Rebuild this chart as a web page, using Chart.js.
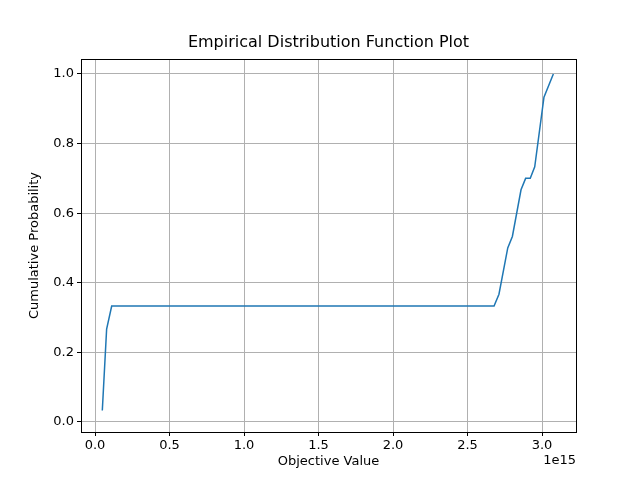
<!DOCTYPE html>
<html><head><meta charset="utf-8">
<script src="https://cdn.jsdelivr.net/npm/chart.js@4"></script>
<style>body{margin:0;background:#fff}#wrap{width:640px;height:480px}</style>
</head><body><div id="wrap"><canvas id="c" width="640" height="480"></canvas></div>
<script>
// x values in units of 1e15
const objValues = [0.049, 0.078, 0.112, 2.678, 2.711, 2.770, 2.801, 2.859, 2.890, 2.921, 2.951, 3.013, 3.076];
const cumProb = [0.033, 0.267, 0.333, 0.333, 0.367, 0.5, 0.533, 0.667, 0.7, 0.7, 0.733, 0.933, 1.0];
const xTicks = [0, 0.5, 1, 1.5, 2, 2.5, 3];
const yTicks = [0, 0.2, 0.4, 0.6, 0.8, 1.0];

const font = {family: 'DejaVu Sans', size: 13};
const extras = {
  id: 'extras',
  afterDraw(chart) {
    const c = chart.ctx, a = chart.chartArea;
    c.save();
    c.fillStyle = '#000';
    c.font = '16px DejaVu Sans';
    c.textAlign = 'center';
    c.textBaseline = 'middle';
    c.fillText('Empirical Distribution Function Plot', (a.left + a.right) / 2, 43);
    c.font = '13px DejaVu Sans';
    c.fillText('Objective Value', (a.left + a.right) / 2, 462);
    c.textAlign = 'right';
    c.fillText('1e15', a.right, 461);
    c.translate(35, (a.top + a.bottom) / 2);
    c.rotate(-Math.PI / 2);
    c.textAlign = 'center';
    c.fillText('Cumulative Probability', 0, 0);
    c.restore();
    c.save();
    c.strokeStyle = '#000';
    c.lineWidth = 1;
    c.strokeRect(a.left + 0.5, a.top + 0.5, a.right - a.left, a.bottom - a.top);
    c.restore();
  }
};

new Chart(document.getElementById('c').getContext('2d'), {
  type: 'line',
  data: {
    datasets: [{
      data: objValues.map((x, i) => ({x: x, y: cumProb[i]})),
      borderColor: '#1f77b4',
      borderWidth: 1.5,
      pointRadius: 0,
      tension: 0,
      fill: false
    }]
  },
  options: {
    responsive: false,
    animation: false,
    layout: {padding: {left: 0, right: 64, top: 59, bottom: 0}},
    plugins: {legend: {display: false}, tooltip: {enabled: false}},
    scales: {
      x: {
        type: 'linear', min: -0.094, max: 3.228,
        afterFit(s) { s.height = 48; },
        afterBuildTicks(s) { s.ticks = xTicks.map(v => ({value: v})); },
        grid: {color: '#b0b0b0', drawTicks: true, tickLength: 4, tickColor: '#000'},
        border: {display: false},
        ticks: {color: '#000', font: font, maxRotation: 0, padding: 2, callback: v => v.toFixed(1)},
        title: {display: false}
      },
      y: {
        min: -0.029, max: 1.043,
        afterFit(s) { s.width = 81; },
        afterBuildTicks(s) { s.ticks = yTicks.map(v => ({value: v})); },
        grid: {color: '#b0b0b0', drawTicks: true, tickLength: 4, tickColor: '#000'},
        border: {display: false},
        ticks: {color: '#000', font: font, padding: 3, callback: v => v.toFixed(1)},
        title: {display: false}
      }
    }
  },
  plugins: [extras]
});
</script></body></html>
